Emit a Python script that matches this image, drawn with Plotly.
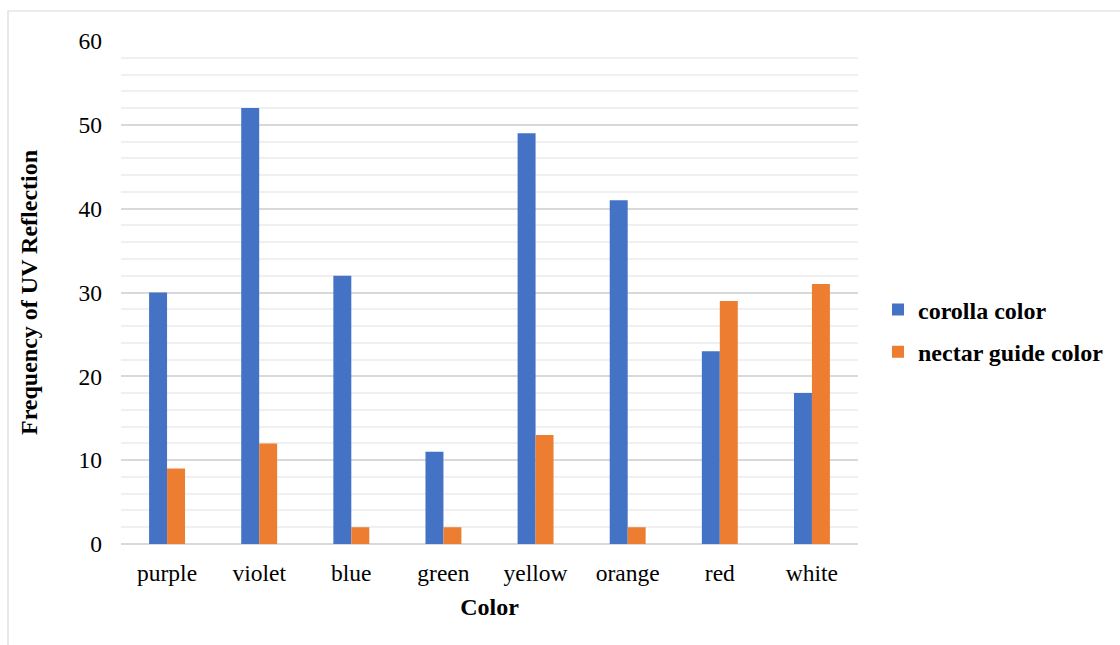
import plotly.graph_objects as go

categories = ["purple", "violet", "blue", "green", "yellow", "orange", "red", "white"]
corolla = [30, 52, 32, 11, 49, 41, 23, 18]
nectar = [9, 12, 2, 2, 13, 2, 29, 31]

W, H = 1120, 645
L, R, T, B = 121, 262, 41, 101
pw = W - L - R
ph = H - T - B

def px_x(p):
    return (p - L) / pw

def px_y(p):
    return (H - B - p) / ph

fig = go.Figure()
fig.add_trace(go.Bar(x=categories, y=corolla, name="corolla color", marker_color="#4472C4",
                     marker_line_width=0, legendgroup="a"))
fig.add_trace(go.Bar(x=categories, y=nectar, name="nectar guide color", marker_color="#ED7D31",
                     marker_line_width=0, legendgroup="b"))

fig.update_layout(
    width=W, height=H,
    margin=dict(l=L, r=R, t=T, b=B, autoexpand=False),
    paper_bgcolor="white", plot_bgcolor="white",
    barmode="group", bargap=0.61, bargroupgap=0,
    font=dict(family="Liberation Serif, Times New Roman, serif", color="#000000", size=23.5),
    showlegend=True,
    legend=dict(x=px_x(878), y=px_y(331), xanchor="left", yanchor="middle",
                font=dict(size=24, family="Liberation Serif", weight="bold"),
                tracegroupgap=8, itemwidth=30, bgcolor="rgba(0,0,0,0)"),
    xaxis=dict(
        showgrid=False, showline=False, ticks="",
        tickfont=dict(size=23.5), ticklabelstandoff=12,
        title=dict(text="<b>Color</b>", font=dict(size=24), standoff=13),
    ),
    yaxis=dict(
        range=[0, 60], dtick=10, showline=False, ticks="",
        gridcolor="#d9d9d9", gridwidth=1.5,
        zeroline=True, zerolinecolor="#d9d9d9", zerolinewidth=1.5,
        tickfont=dict(size=23.5), ticklabelstandoff=18,
        minor=dict(dtick=2, showgrid=True, gridcolor="#f0f0f0", gridwidth=1.5),
        title=dict(text="<b>Frequency of UV Reflection</b>", font=dict(size=24), standoff=34),
    ),
    shapes=[dict(type="rect", xref="paper", yref="paper",
                 x0=px_x(8), x1=px_x(1130), y0=px_y(655), y1=px_y(11),
                 line=dict(color="#d9d9d9", width=1.2), fillcolor="rgba(0,0,0,0)", layer="below")],
)

fig.write_html("out.html", config={"displayModeBar": False},
               post_script="document.body.style.margin='0';document.body.style.overflow='hidden';")
